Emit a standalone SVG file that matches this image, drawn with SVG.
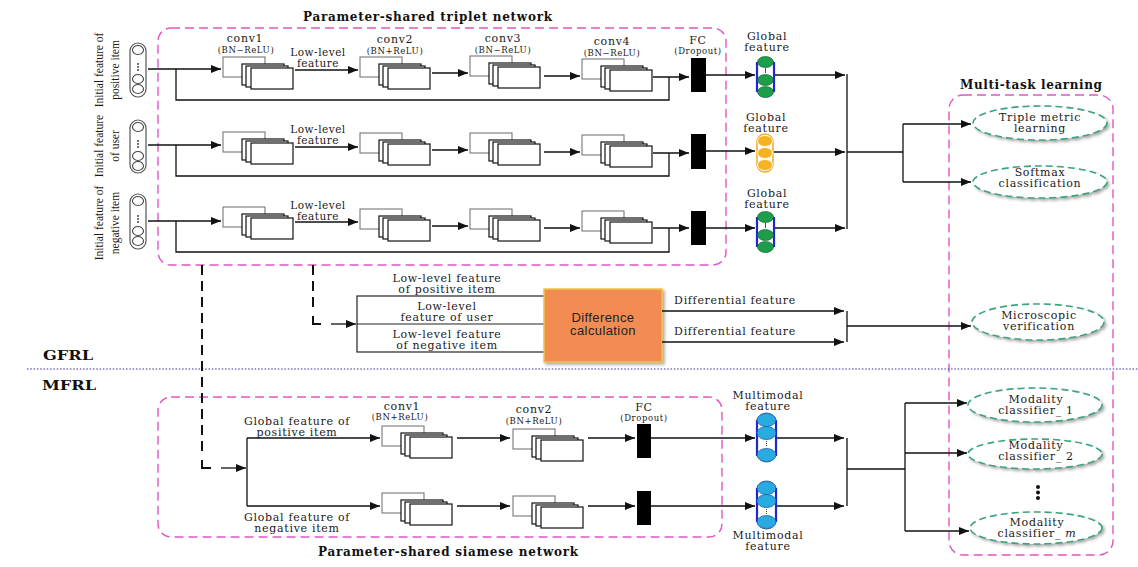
<svg xmlns="http://www.w3.org/2000/svg" width="1138" height="567" viewBox="0 0 1138 567">
<style>
.t{font-family:"DejaVu Serif","Liberation Serif",serif;font-size:11px;letter-spacing:0.7px;fill:#1a1a1a;text-anchor:middle}
.m{font-size:10.5px;letter-spacing:0.5px}
.s{font-size:8.5px;letter-spacing:0.6px}
.r{font-family:"Liberation Serif",serif;font-size:11.5px;fill:#1a1a1a;text-anchor:middle}
.b{font-family:"DejaVu Serif","Liberation Serif",serif;font-weight:bold;font-size:12px;fill:#111}
.ln{fill:none;stroke:#111;stroke-width:1.3}
.dl{fill:none;stroke:#111;stroke-width:2;stroke-dasharray:10 6}
.sl{fill:none;stroke:#111;stroke-width:2}
.box{fill:none;stroke:#e055c8;stroke-width:1.4;stroke-dasharray:9 5}
.el{fill:#fff;stroke:#3aa57a;stroke-width:1.6;stroke-dasharray:7 4}
.bk{fill:#fff;stroke:#777;stroke-width:1.1}
.fr{fill:#fff;stroke:#111;stroke-width:1.2}
.cap{fill:#fff;stroke:#555;stroke-width:1.2}
.ci{fill:#fff;stroke:#444;stroke-width:1.1}
.gr{fill:#1e9e4a;stroke:#0d5a2a;stroke-width:0.6}
.ye{fill:#f5b324;stroke:#fff;stroke-width:0.8}
.bl{fill:#29abe2;stroke:#1b5aa0;stroke-width:0.8}
.bs{stroke:#1a2ad0;stroke-width:2.2}
</style>
<defs>
<marker id="ah" markerWidth="10" markerHeight="8" refX="10" refY="4" orient="auto" markerUnits="userSpaceOnUse">
<path d="M0,0 L10,4 L0,8 z" fill="#111"/>
</marker>
<filter id="sh" x="-20%" y="-30%" width="150%" height="170%">
<feDropShadow dx="2" dy="2" stdDeviation="1.5" flood-color="#888" flood-opacity="0.7"/>
</filter>
<g id="cv">
<rect class="bk" x="0" y="0" width="42" height="20"/>
<rect class="fr" x="19" y="7" width="42" height="21"/>
<rect class="fr" x="23" y="9" width="42" height="21"/>
<rect class="fr" x="28" y="11" width="42" height="21"/>
</g>
</defs>
<rect width="1138" height="567" fill="#fff"/>

<!-- group boxes -->
<g id="triplet-box">
<rect class="box" x="158" y="28" width="568" height="237" rx="13"/>
<text class="b" x="303" y="21" textLength="249" lengthAdjust="spacing">Parameter-shared triplet network</text>
</g>
<g id="siamese-box">
<rect class="box" x="158" y="397" width="564" height="140" rx="13"/>
<text class="b" x="318" y="556" textLength="260" lengthAdjust="spacing">Parameter-shared siamese network</text>
</g>
<g id="multitask-box">
<rect class="box" x="949" y="95" width="164" height="460" rx="14"/>
<text class="b" x="960" y="89" textLength="142" lengthAdjust="spacing">Multi-task learning</text>
</g>
<g id="sections">
<line x1="27" y1="369" x2="1138" y2="369" stroke="#3030a0" stroke-width="1.2" stroke-dasharray="1.5 1.8"/>
<text class="b" x="43" y="360" font-size="14" textLength="50" lengthAdjust="spacingAndGlyphs">GFRL</text>
<text class="b" x="42" y="390" font-size="14" textLength="54" lengthAdjust="spacingAndGlyphs">MFRL</text>
</g>

<!-- inputs -->
<g id="input-positive">
<rect class="cap" x="130" y="43" width="16" height="54" rx="8"/>
<ellipse class="ci" cx="138" cy="50" rx="5.5" ry="4.5"/>
<circle cx="138" cy="64" r="0.9" fill="#333"/><circle cx="138" cy="67" r="0.9" fill="#333"/><circle cx="138" cy="70" r="0.9" fill="#333"/>
<ellipse class="ci" cx="138" cy="79" rx="5.5" ry="4.5"/>
<ellipse class="ci" cx="138" cy="89" rx="5.5" ry="4.5"/>
<text class="r" transform="translate(103,70) rotate(-90)">Initial feature of</text>
<text class="r" transform="translate(119,70) rotate(-90)">positive item</text>
</g>
<g id="input-user">
<rect class="cap" x="130" y="120" width="16" height="53" rx="8"/>
<ellipse class="ci" cx="138" cy="127" rx="5.5" ry="4.5"/>
<circle cx="138" cy="141" r="0.9" fill="#333"/><circle cx="138" cy="144" r="0.9" fill="#333"/><circle cx="138" cy="147" r="0.9" fill="#333"/>
<ellipse class="ci" cx="138" cy="156" rx="5.5" ry="4.5"/>
<ellipse class="ci" cx="138" cy="166" rx="5.5" ry="4.5"/>
<text class="r" transform="translate(103,146) rotate(-90)">Initial feature</text>
<text class="r" transform="translate(119,146) rotate(-90)">of user</text>
</g>
<g id="input-negative">
<rect class="cap" x="130" y="194" width="16" height="55" rx="8"/>
<ellipse class="ci" cx="138" cy="201" rx="5.5" ry="4.5"/>
<circle cx="138" cy="216" r="0.9" fill="#333"/><circle cx="138" cy="219" r="0.9" fill="#333"/><circle cx="138" cy="222" r="0.9" fill="#333"/>
<ellipse class="ci" cx="138" cy="231" rx="5.5" ry="4.5"/>
<ellipse class="ci" cx="138" cy="241" rx="5.5" ry="4.5"/>
<text class="r" transform="translate(103,223) rotate(-90)">Initial feature of</text>
<text class="r" transform="translate(119,223) rotate(-90)">negative item</text>
</g>

<!-- triplet row 1 -->
<g id="t1-conv1"><use href="#cv" x="223" y="57"/>
<text class="t" x="245" y="42" letter-spacing="1">conv1</text><text class="t s" x="246" y="53">(BN−ReLU)</text></g>
<g id="t1-conv2"><use href="#cv" x="360" y="57"/>
<text class="t" x="395" y="43" letter-spacing="1">conv2</text><text class="t s" x="395" y="54">(BN+ReLU)</text></g>
<g id="t1-conv3"><use href="#cv" x="470" y="56"/>
<text class="t" x="503" y="42" letter-spacing="1">conv3</text><text class="t s" x="503" y="53">(BN−ReLU)</text></g>
<g id="t1-conv4"><use href="#cv" x="582" y="59"/>
<text class="t" x="612" y="45" letter-spacing="1">conv4</text><text class="t s" x="612" y="56">(BN−ReLU)</text></g>
<g id="t1-fc"><rect x="691" y="58" width="15" height="34" fill="#000"/>
<text class="t" x="698" y="44">FC</text><text class="t s" x="698" y="54">(Dropout)</text></g>
<g id="t1-global">
<rect x="757" y="57" width="17" height="40" rx="8" fill="none" stroke="#999" stroke-width="0.8" stroke-dasharray="2 2"/>
<line class="bs" x1="757" y1="62" x2="757" y2="92"/><line class="bs" x1="774" y1="62" x2="774" y2="92"/>
<ellipse class="gr" cx="765.5" cy="62" rx="8" ry="5.5"/>
<line x1="765.5" y1="68" x2="765.5" y2="73" stroke="#555" stroke-width="1"/>
<ellipse class="gr" cx="765.5" cy="80" rx="8" ry="5.5"/>
<ellipse class="gr" cx="765.5" cy="92" rx="8" ry="5.5"/>
<text class="t" x="767" y="40">Global</text><text class="t" x="767" y="51">feature</text>
</g>

<!-- triplet row 2 -->
<g id="t2-conv1"><use href="#cv" x="223" y="132"/></g>
<g id="t2-conv2"><use href="#cv" x="360" y="133"/></g>
<g id="t2-conv3"><use href="#cv" x="470" y="133"/></g>
<g id="t2-conv4"><use href="#cv" x="582" y="135"/></g>
<g id="t2-fc"><rect x="691" y="134" width="15" height="35" fill="#000"/></g>
<g id="t2-global">
<rect x="757" y="134" width="16" height="38" rx="8" fill="none" stroke="#f2b030" stroke-width="1.6"/>
<ellipse class="ye" cx="765" cy="141" rx="7.5" ry="5.5"/>
<ellipse class="ye" cx="765" cy="153" rx="7.5" ry="5.5"/>
<ellipse class="ye" cx="765" cy="165" rx="7.5" ry="5.5"/>
<text class="t" x="766" y="121">Global</text><text class="t" x="766" y="132">feature</text>
</g>

<!-- triplet row 3 -->
<g id="t3-conv1"><use href="#cv" x="223" y="207"/></g>
<g id="t3-conv2"><use href="#cv" x="360" y="209"/></g>
<g id="t3-conv3"><use href="#cv" x="470" y="209"/></g>
<g id="t3-conv4"><use href="#cv" x="582" y="211"/></g>
<g id="t3-fc"><rect x="691" y="211" width="15" height="34" fill="#000"/></g>
<g id="t3-global">
<rect x="757" y="212" width="17" height="40" rx="8" fill="none" stroke="#999" stroke-width="0.8" stroke-dasharray="2 2"/>
<line class="bs" x1="757" y1="217" x2="757" y2="247"/><line class="bs" x1="774" y1="217" x2="774" y2="247"/>
<ellipse class="gr" cx="765.5" cy="217" rx="8" ry="5.5"/>
<line x1="765.5" y1="223" x2="765.5" y2="228" stroke="#555" stroke-width="1"/>
<ellipse class="gr" cx="765.5" cy="235" rx="8" ry="5.5"/>
<ellipse class="gr" cx="765.5" cy="247" rx="8" ry="5.5"/>
<text class="t" x="767" y="197">Global</text><text class="t" x="767" y="208">feature</text>
</g>

<!-- difference part -->
<g id="lowlevel-box">
<rect x="357" y="296" width="188" height="56" fill="#fff" stroke="#222" stroke-width="1.2"/>
<line x1="357" y1="324" x2="545" y2="324" stroke="#222" stroke-width="1.2"/>
<text class="t" x="447" y="282">Low-level feature</text><text class="t" x="447" y="293">of positive item</text>
<text class="t" x="447" y="310">Low-level</text><text class="t" x="447" y="321">feature of user</text>
<text class="t" x="447" y="338">Low-level feature</text><text class="t" x="447" y="349">of negative item</text>
</g>
<g id="difference">
<rect x="544" y="289" width="118" height="73" fill="#f28c52" stroke="#f0c24a" stroke-width="1.5" filter="url(#sh)"/>
<text x="603" y="322" font-family="'Liberation Sans',Arial,sans-serif" font-size="13" fill="#222" text-anchor="middle" letter-spacing="0.4">Difference</text>
<text x="603" y="335" font-family="'Liberation Sans',Arial,sans-serif" font-size="13" fill="#222" text-anchor="middle" letter-spacing="0.4">calculation</text>
</g>

<!-- siamese -->
<g id="s-inputs">
<text class="t" x="297" y="425">Global feature of</text><text class="t" x="297" y="436">positive item</text>
<text class="t" x="297" y="521">Global feature of</text><text class="t" x="297" y="532">negative item</text>
</g>
<g id="s1-conv1"><use href="#cv" x="382" y="426"/>
<text class="t" x="402" y="410" letter-spacing="1">conv1</text><text class="t s" x="400" y="420">(BN+ReLU)</text></g>
<g id="s1-conv2"><use href="#cv" x="513" y="429"/>
<text class="t" x="534" y="413" letter-spacing="1">conv2</text><text class="t s" x="534" y="424">(BN+ReLU)</text></g>
<g id="s1-fc"><rect x="637" y="424" width="14" height="34" fill="#000"/>
<text class="t" x="644" y="411">FC</text><text class="t s" x="644" y="421">(Dropout)</text></g>
<g id="s1-multimodal">
<rect x="757" y="413" width="19" height="49" rx="9" fill="none" stroke="#1b5aa0" stroke-width="0.8"/>
<line class="bs" x1="757" y1="420" x2="757" y2="456"/><line class="bs" x1="776" y1="420" x2="776" y2="456"/>
<ellipse class="bl" cx="766.5" cy="420" rx="9.5" ry="6.5"/>
<ellipse class="bl" cx="766.5" cy="433" rx="9.5" ry="6.5"/>
<line x1="766.5" y1="441" x2="766.5" y2="447" stroke="#444" stroke-width="1" stroke-dasharray="1 1"/>
<ellipse class="bl" cx="766.5" cy="455" rx="9.5" ry="6.5"/>
<text class="t" x="768" y="399">Multimodal</text><text class="t" x="768" y="410">feature</text>
</g>
<g id="s2-conv1"><use href="#cv" x="382" y="493"/></g>
<g id="s2-conv2"><use href="#cv" x="513" y="496"/></g>
<g id="s2-fc"><rect x="637" y="491" width="14" height="34" fill="#000"/></g>
<g id="s2-multimodal">
<rect x="757" y="481" width="19" height="48" rx="9" fill="none" stroke="#1b5aa0" stroke-width="0.8"/>
<line class="bs" x1="757" y1="488" x2="757" y2="522"/><line class="bs" x1="776" y1="488" x2="776" y2="522"/>
<ellipse class="bl" cx="766.5" cy="488" rx="9.5" ry="6.5"/>
<ellipse class="bl" cx="766.5" cy="501" rx="9.5" ry="6.5"/>
<line x1="766.5" y1="509" x2="766.5" y2="515" stroke="#444" stroke-width="1" stroke-dasharray="1 1"/>
<ellipse class="bl" cx="766.5" cy="522" rx="9.5" ry="6.5"/>
<text class="t" x="768" y="539">Multimodal</text><text class="t" x="768" y="550">feature</text>
</g>

<!-- tasks -->
<g id="task-triple"><ellipse class="el" cx="1040" cy="123" rx="67" ry="17" filter="url(#sh)"/>
<text class="t" x="1040" y="121">Triple metric</text><text class="t" x="1040" y="132">learning</text></g>
<g id="task-softmax"><ellipse class="el" cx="1040" cy="182" rx="67" ry="16" filter="url(#sh)"/>
<text class="t" x="1040" y="176">Softmax</text><text class="t" x="1040" y="187">classification</text></g>
<g id="task-micro"><ellipse class="el" cx="1038" cy="322" rx="66" ry="18" filter="url(#sh)"/>
<text class="t" x="1039" y="319">Microscopic</text><text class="t" x="1039" y="330">verification</text></g>
<g id="task-mod1"><ellipse class="el" cx="1035" cy="405" rx="67" ry="17" filter="url(#sh)"/>
<text class="t" x="1036" y="403">Modality</text><text class="t" x="1036" y="414">classifier_ 1</text></g>
<g id="task-mod2"><ellipse class="el" cx="1035" cy="454" rx="67" ry="15" filter="url(#sh)"/>
<text class="t" x="1036" y="449">Modality</text><text class="t" x="1036" y="460">classifier_ 2</text></g>
<g id="task-dots"><circle cx="1038" cy="487" r="2" fill="#111"/><circle cx="1038" cy="492.5" r="2" fill="#111"/><circle cx="1038" cy="498" r="2" fill="#111"/></g>
<g id="task-modm"><ellipse class="el" cx="1036" cy="528" rx="66" ry="16" filter="url(#sh)"/>
<text class="t" x="1037" y="526">Modality</text><text class="t" x="1037" y="537">classifier_ <tspan font-style="italic">m</tspan></text></g>

<!-- connectors -->
<g id="connectors">
<path class="ln" d="M148,69 H221" marker-end="url(#ah)"/>
<path class="ln" d="M176,69 V100 H669 V77"/>
<path class="ln" d="M295,70 H358" marker-end="url(#ah)"/>
<path class="ln" d="M432,73 H468" marker-end="url(#ah)"/>
<path class="ln" d="M544,76 H580" marker-end="url(#ah)"/>
<path class="ln" d="M653,77 H689" marker-end="url(#ah)"/>
<path class="ln" d="M706,75 H755" marker-end="url(#ah)"/>
<path class="ln" d="M775,75 H845" marker-end="url(#ah)"/>

<path class="ln" d="M148,145 H221" marker-end="url(#ah)"/>
<path class="ln" d="M176,145 V176 H669 V153"/>
<path class="ln" d="M295,147 H358" marker-end="url(#ah)"/>
<path class="ln" d="M432,150 H468" marker-end="url(#ah)"/>
<path class="ln" d="M544,152 H580" marker-end="url(#ah)"/>
<path class="ln" d="M653,153 H689" marker-end="url(#ah)"/>
<path class="ln" d="M706,151 H755" marker-end="url(#ah)"/>
<path class="ln" d="M774,152 H845" marker-end="url(#ah)"/>

<path class="ln" d="M148,221 H221" marker-end="url(#ah)"/>
<path class="ln" d="M176,221 V252 H669 V228"/>
<path class="ln" d="M295,222 H358" marker-end="url(#ah)"/>
<path class="ln" d="M432,226 H468" marker-end="url(#ah)"/>
<path class="ln" d="M544,228 H580" marker-end="url(#ah)"/>
<path class="ln" d="M653,228 H689" marker-end="url(#ah)"/>
<path class="ln" d="M706,228 H755" marker-end="url(#ah)"/>
<path class="ln" d="M775,228 H845" marker-end="url(#ah)"/>

<text class="t m" x="318" y="56">Low-level</text><text class="t m" x="318" y="67">feature</text>
<text class="t m" x="318" y="133">Low-level</text><text class="t m" x="318" y="144">feature</text>
<text class="t m" x="318" y="209">Low-level</text><text class="t m" x="318" y="220">feature</text>

<path class="ln" d="M847,74 V229"/>
<path class="ln" d="M847,152 H903"/>
<path class="ln" d="M903,124 V182"/>
<path class="ln" d="M903,124 H971" marker-end="url(#ah)"/>
<path class="ln" d="M903,182 H971" marker-end="url(#ah)"/>

<path class="dl" d="M313,265 V312"/>
<path class="sl" d="M313,316 V324 H321"/>
<path class="ln" stroke-width="2" d="M331,324 H356" marker-end="url(#ah)"/>
<path class="dl" d="M202,265 V456"/>
<path class="sl" d="M202,460 V468 H211"/>
<path class="ln" stroke-width="2" d="M221,468 H246" marker-end="url(#ah)"/>

<path class="ln" d="M662,311 H844" marker-end="url(#ah)"/>
<path class="ln" d="M662,342 H844" marker-end="url(#ah)"/>
<text class="t" x="735" y="304">Differential feature</text>
<text class="t" x="735" y="335">Differential feature</text>
<path class="ln" d="M847,311 V342"/>
<path class="ln" d="M847,326 H971" marker-end="url(#ah)"/>

<path class="ln" d="M247,438 V506"/>
<path class="ln" d="M247,438 H380" marker-end="url(#ah)"/>
<path class="ln" d="M247,506 H380" marker-end="url(#ah)"/>
<path class="ln" d="M457,438 H510" marker-end="url(#ah)"/>
<path class="ln" d="M588,438 H635" marker-end="url(#ah)"/>
<path class="ln" d="M651,438 H755" marker-end="url(#ah)"/>
<path class="ln" d="M777,438 H844" marker-end="url(#ah)"/>
<path class="ln" d="M457,506 H510" marker-end="url(#ah)"/>
<path class="ln" d="M588,506 H635" marker-end="url(#ah)"/>
<path class="ln" d="M651,506 H755" marker-end="url(#ah)"/>
<path class="ln" d="M777,506 H844" marker-end="url(#ah)"/>
<path class="ln" d="M847,438 V506"/>
<path class="ln" d="M847,469 H905"/>
<path class="ln" d="M905,403 V531"/>
<path class="ln" d="M905,403 H967" marker-end="url(#ah)"/>
<path class="ln" d="M905,453 H967" marker-end="url(#ah)"/>
<path class="ln" d="M905,531 H969" marker-end="url(#ah)"/>
</g>
</svg>
